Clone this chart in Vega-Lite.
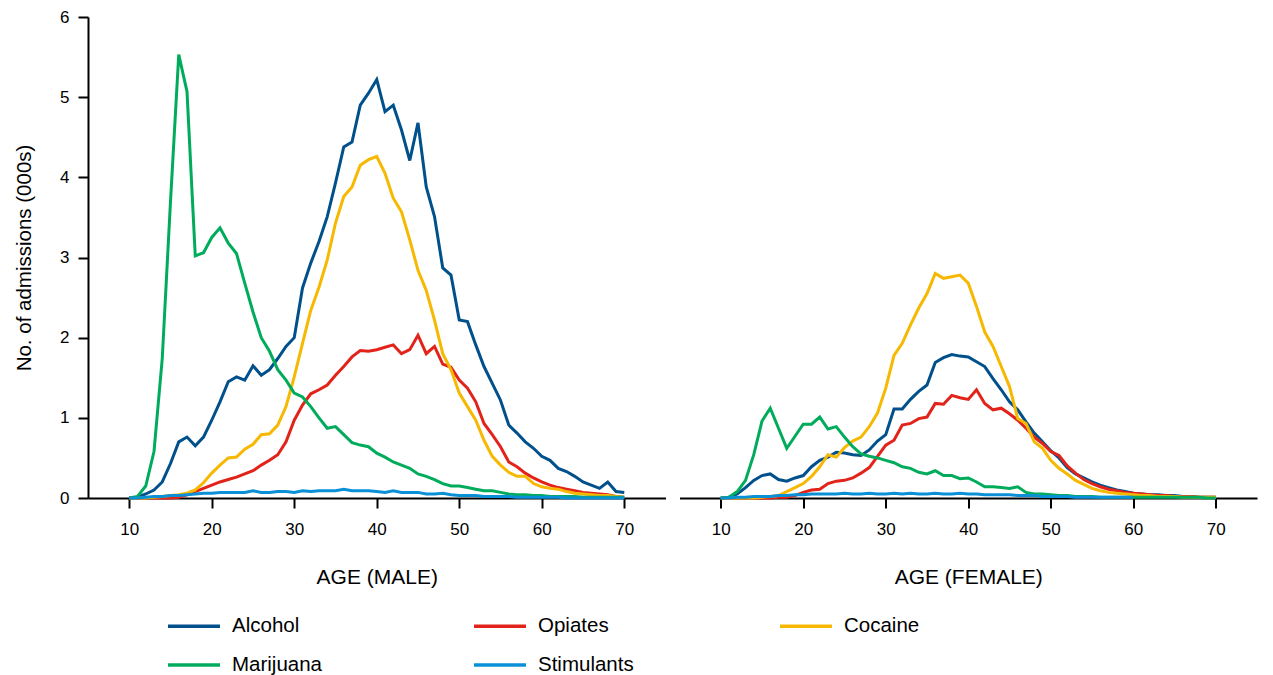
{
"$schema": "https://vega.github.io/schema/vega-lite/v6.json",
"padding": {"left": 14, "top": 8, "right": 5, "bottom": 5},
"background": "white",
"config": {
  "view": {"stroke": null},
  "font": "Liberation Sans",
  "axis": {"domainColor": "black", "domainWidth": 2, "tickColor": "black", "tickWidth": 2, "tickSize": 10, "labelFontSize": 17, "labelColor": "black", "titleFontSize": 21, "titleFontWeight": "normal", "titleColor": "black", "grid": false, "labelFont": "Liberation Sans", "titleFont": "Liberation Sans"},
  "legend": {"labelFont": "Liberation Sans"}
},
"datasets": {"d": [
{"sex":"MALE","drug":"Alcohol","age":10,"n":0},{"sex":"MALE","drug":"Alcohol","age":11,"n":0.01},{"sex":"MALE","drug":"Alcohol","age":12,"n":0.05},{"sex":"MALE","drug":"Alcohol","age":13,"n":0.1},{"sex":"MALE","drug":"Alcohol","age":14,"n":0.2},{"sex":"MALE","drug":"Alcohol","age":15,"n":0.43},{"sex":"MALE","drug":"Alcohol","age":16,"n":0.7},{"sex":"MALE","drug":"Alcohol","age":17,"n":0.76},{"sex":"MALE","drug":"Alcohol","age":18,"n":0.65},{"sex":"MALE","drug":"Alcohol","age":19,"n":0.76},{"sex":"MALE","drug":"Alcohol","age":20,"n":0.97},{"sex":"MALE","drug":"Alcohol","age":21,"n":1.2},{"sex":"MALE","drug":"Alcohol","age":22,"n":1.45},{"sex":"MALE","drug":"Alcohol","age":23,"n":1.51},{"sex":"MALE","drug":"Alcohol","age":24,"n":1.47},{"sex":"MALE","drug":"Alcohol","age":25,"n":1.65},{"sex":"MALE","drug":"Alcohol","age":26,"n":1.53},{"sex":"MALE","drug":"Alcohol","age":27,"n":1.6},{"sex":"MALE","drug":"Alcohol","age":28,"n":1.74},{"sex":"MALE","drug":"Alcohol","age":29,"n":1.89},{"sex":"MALE","drug":"Alcohol","age":30,"n":2.0},{"sex":"MALE","drug":"Alcohol","age":31,"n":2.62},{"sex":"MALE","drug":"Alcohol","age":32,"n":2.93},{"sex":"MALE","drug":"Alcohol","age":33,"n":3.2},{"sex":"MALE","drug":"Alcohol","age":34,"n":3.51},{"sex":"MALE","drug":"Alcohol","age":35,"n":3.93},{"sex":"MALE","drug":"Alcohol","age":36,"n":4.38},{"sex":"MALE","drug":"Alcohol","age":37,"n":4.44},{"sex":"MALE","drug":"Alcohol","age":38,"n":4.9},{"sex":"MALE","drug":"Alcohol","age":39,"n":5.05},{"sex":"MALE","drug":"Alcohol","age":40,"n":5.22},{"sex":"MALE","drug":"Alcohol","age":41,"n":4.82},{"sex":"MALE","drug":"Alcohol","age":42,"n":4.9},{"sex":"MALE","drug":"Alcohol","age":43,"n":4.59},{"sex":"MALE","drug":"Alcohol","age":44,"n":4.21},{"sex":"MALE","drug":"Alcohol","age":45,"n":4.68},{"sex":"MALE","drug":"Alcohol","age":46,"n":3.88},{"sex":"MALE","drug":"Alcohol","age":47,"n":3.51},{"sex":"MALE","drug":"Alcohol","age":48,"n":2.87},{"sex":"MALE","drug":"Alcohol","age":49,"n":2.78},{"sex":"MALE","drug":"Alcohol","age":50,"n":2.22},{"sex":"MALE","drug":"Alcohol","age":51,"n":2.2},{"sex":"MALE","drug":"Alcohol","age":52,"n":1.91},{"sex":"MALE","drug":"Alcohol","age":53,"n":1.64},{"sex":"MALE","drug":"Alcohol","age":54,"n":1.43},{"sex":"MALE","drug":"Alcohol","age":55,"n":1.22},{"sex":"MALE","drug":"Alcohol","age":56,"n":0.91},{"sex":"MALE","drug":"Alcohol","age":57,"n":0.81},{"sex":"MALE","drug":"Alcohol","age":58,"n":0.7},{"sex":"MALE","drug":"Alcohol","age":59,"n":0.62},{"sex":"MALE","drug":"Alcohol","age":60,"n":0.52},{"sex":"MALE","drug":"Alcohol","age":61,"n":0.47},{"sex":"MALE","drug":"Alcohol","age":62,"n":0.37},{"sex":"MALE","drug":"Alcohol","age":63,"n":0.33},{"sex":"MALE","drug":"Alcohol","age":64,"n":0.27},{"sex":"MALE","drug":"Alcohol","age":65,"n":0.2},{"sex":"MALE","drug":"Alcohol","age":66,"n":0.16},{"sex":"MALE","drug":"Alcohol","age":67,"n":0.12},{"sex":"MALE","drug":"Alcohol","age":68,"n":0.2},{"sex":"MALE","drug":"Alcohol","age":69,"n":0.08},{"sex":"MALE","drug":"Alcohol","age":70,"n":0.07},
{"sex":"MALE","drug":"Opiates","age":10,"n":0},{"sex":"MALE","drug":"Opiates","age":11,"n":0},{"sex":"MALE","drug":"Opiates","age":12,"n":0},{"sex":"MALE","drug":"Opiates","age":13,"n":0},{"sex":"MALE","drug":"Opiates","age":14,"n":0},{"sex":"MALE","drug":"Opiates","age":15,"n":0},{"sex":"MALE","drug":"Opiates","age":16,"n":0.01},{"sex":"MALE","drug":"Opiates","age":17,"n":0.04},{"sex":"MALE","drug":"Opiates","age":18,"n":0.08},{"sex":"MALE","drug":"Opiates","age":19,"n":0.12},{"sex":"MALE","drug":"Opiates","age":20,"n":0.16},{"sex":"MALE","drug":"Opiates","age":21,"n":0.2},{"sex":"MALE","drug":"Opiates","age":22,"n":0.23},{"sex":"MALE","drug":"Opiates","age":23,"n":0.26},{"sex":"MALE","drug":"Opiates","age":24,"n":0.3},{"sex":"MALE","drug":"Opiates","age":25,"n":0.34},{"sex":"MALE","drug":"Opiates","age":26,"n":0.41},{"sex":"MALE","drug":"Opiates","age":27,"n":0.47},{"sex":"MALE","drug":"Opiates","age":28,"n":0.54},{"sex":"MALE","drug":"Opiates","age":29,"n":0.7},{"sex":"MALE","drug":"Opiates","age":30,"n":0.97},{"sex":"MALE","drug":"Opiates","age":31,"n":1.16},{"sex":"MALE","drug":"Opiates","age":32,"n":1.3},{"sex":"MALE","drug":"Opiates","age":33,"n":1.35},{"sex":"MALE","drug":"Opiates","age":34,"n":1.41},{"sex":"MALE","drug":"Opiates","age":35,"n":1.53},{"sex":"MALE","drug":"Opiates","age":36,"n":1.64},{"sex":"MALE","drug":"Opiates","age":37,"n":1.76},{"sex":"MALE","drug":"Opiates","age":38,"n":1.84},{"sex":"MALE","drug":"Opiates","age":39,"n":1.83},{"sex":"MALE","drug":"Opiates","age":40,"n":1.85},{"sex":"MALE","drug":"Opiates","age":41,"n":1.88},{"sex":"MALE","drug":"Opiates","age":42,"n":1.91},{"sex":"MALE","drug":"Opiates","age":43,"n":1.8},{"sex":"MALE","drug":"Opiates","age":44,"n":1.85},{"sex":"MALE","drug":"Opiates","age":45,"n":2.03},{"sex":"MALE","drug":"Opiates","age":46,"n":1.8},{"sex":"MALE","drug":"Opiates","age":47,"n":1.89},{"sex":"MALE","drug":"Opiates","age":48,"n":1.67},{"sex":"MALE","drug":"Opiates","age":49,"n":1.63},{"sex":"MALE","drug":"Opiates","age":50,"n":1.47},{"sex":"MALE","drug":"Opiates","age":51,"n":1.37},{"sex":"MALE","drug":"Opiates","age":52,"n":1.2},{"sex":"MALE","drug":"Opiates","age":53,"n":0.93},{"sex":"MALE","drug":"Opiates","age":54,"n":0.79},{"sex":"MALE","drug":"Opiates","age":55,"n":0.64},{"sex":"MALE","drug":"Opiates","age":56,"n":0.45},{"sex":"MALE","drug":"Opiates","age":57,"n":0.39},{"sex":"MALE","drug":"Opiates","age":58,"n":0.31},{"sex":"MALE","drug":"Opiates","age":59,"n":0.25},{"sex":"MALE","drug":"Opiates","age":60,"n":0.2},{"sex":"MALE","drug":"Opiates","age":61,"n":0.16},{"sex":"MALE","drug":"Opiates","age":62,"n":0.13},{"sex":"MALE","drug":"Opiates","age":63,"n":0.11},{"sex":"MALE","drug":"Opiates","age":64,"n":0.09},{"sex":"MALE","drug":"Opiates","age":65,"n":0.07},{"sex":"MALE","drug":"Opiates","age":66,"n":0.06},{"sex":"MALE","drug":"Opiates","age":67,"n":0.05},{"sex":"MALE","drug":"Opiates","age":68,"n":0.04},{"sex":"MALE","drug":"Opiates","age":69,"n":0.02},{"sex":"MALE","drug":"Opiates","age":70,"n":0.01},
{"sex":"MALE","drug":"Cocaine","age":10,"n":0},{"sex":"MALE","drug":"Cocaine","age":11,"n":0},{"sex":"MALE","drug":"Cocaine","age":12,"n":0},{"sex":"MALE","drug":"Cocaine","age":13,"n":0.01},{"sex":"MALE","drug":"Cocaine","age":14,"n":0.02},{"sex":"MALE","drug":"Cocaine","age":15,"n":0.03},{"sex":"MALE","drug":"Cocaine","age":16,"n":0.04},{"sex":"MALE","drug":"Cocaine","age":17,"n":0.06},{"sex":"MALE","drug":"Cocaine","age":18,"n":0.1},{"sex":"MALE","drug":"Cocaine","age":19,"n":0.19},{"sex":"MALE","drug":"Cocaine","age":20,"n":0.31},{"sex":"MALE","drug":"Cocaine","age":21,"n":0.41},{"sex":"MALE","drug":"Cocaine","age":22,"n":0.5},{"sex":"MALE","drug":"Cocaine","age":23,"n":0.51},{"sex":"MALE","drug":"Cocaine","age":24,"n":0.61},{"sex":"MALE","drug":"Cocaine","age":25,"n":0.67},{"sex":"MALE","drug":"Cocaine","age":26,"n":0.79},{"sex":"MALE","drug":"Cocaine","age":27,"n":0.8},{"sex":"MALE","drug":"Cocaine","age":28,"n":0.91},{"sex":"MALE","drug":"Cocaine","age":29,"n":1.14},{"sex":"MALE","drug":"Cocaine","age":30,"n":1.51},{"sex":"MALE","drug":"Cocaine","age":31,"n":1.93},{"sex":"MALE","drug":"Cocaine","age":32,"n":2.34},{"sex":"MALE","drug":"Cocaine","age":33,"n":2.63},{"sex":"MALE","drug":"Cocaine","age":34,"n":2.97},{"sex":"MALE","drug":"Cocaine","age":35,"n":3.43},{"sex":"MALE","drug":"Cocaine","age":36,"n":3.76},{"sex":"MALE","drug":"Cocaine","age":37,"n":3.88},{"sex":"MALE","drug":"Cocaine","age":38,"n":4.15},{"sex":"MALE","drug":"Cocaine","age":39,"n":4.22},{"sex":"MALE","drug":"Cocaine","age":40,"n":4.26},{"sex":"MALE","drug":"Cocaine","age":41,"n":4.05},{"sex":"MALE","drug":"Cocaine","age":42,"n":3.74},{"sex":"MALE","drug":"Cocaine","age":43,"n":3.57},{"sex":"MALE","drug":"Cocaine","age":44,"n":3.22},{"sex":"MALE","drug":"Cocaine","age":45,"n":2.84},{"sex":"MALE","drug":"Cocaine","age":46,"n":2.59},{"sex":"MALE","drug":"Cocaine","age":47,"n":2.22},{"sex":"MALE","drug":"Cocaine","age":48,"n":1.8},{"sex":"MALE","drug":"Cocaine","age":49,"n":1.6},{"sex":"MALE","drug":"Cocaine","age":50,"n":1.31},{"sex":"MALE","drug":"Cocaine","age":51,"n":1.14},{"sex":"MALE","drug":"Cocaine","age":52,"n":0.97},{"sex":"MALE","drug":"Cocaine","age":53,"n":0.72},{"sex":"MALE","drug":"Cocaine","age":54,"n":0.52},{"sex":"MALE","drug":"Cocaine","age":55,"n":0.41},{"sex":"MALE","drug":"Cocaine","age":56,"n":0.32},{"sex":"MALE","drug":"Cocaine","age":57,"n":0.27},{"sex":"MALE","drug":"Cocaine","age":58,"n":0.27},{"sex":"MALE","drug":"Cocaine","age":59,"n":0.18},{"sex":"MALE","drug":"Cocaine","age":60,"n":0.14},{"sex":"MALE","drug":"Cocaine","age":61,"n":0.12},{"sex":"MALE","drug":"Cocaine","age":62,"n":0.11},{"sex":"MALE","drug":"Cocaine","age":63,"n":0.08},{"sex":"MALE","drug":"Cocaine","age":64,"n":0.06},{"sex":"MALE","drug":"Cocaine","age":65,"n":0.05},{"sex":"MALE","drug":"Cocaine","age":66,"n":0.04},{"sex":"MALE","drug":"Cocaine","age":67,"n":0.03},{"sex":"MALE","drug":"Cocaine","age":68,"n":0.03},{"sex":"MALE","drug":"Cocaine","age":69,"n":0.02},{"sex":"MALE","drug":"Cocaine","age":70,"n":0.01},
{"sex":"MALE","drug":"Marijuana","age":10,"n":0},{"sex":"MALE","drug":"Marijuana","age":11,"n":0.02},{"sex":"MALE","drug":"Marijuana","age":12,"n":0.15},{"sex":"MALE","drug":"Marijuana","age":13,"n":0.58},{"sex":"MALE","drug":"Marijuana","age":14,"n":1.74},{"sex":"MALE","drug":"Marijuana","age":15,"n":3.7},{"sex":"MALE","drug":"Marijuana","age":16,"n":5.53},{"sex":"MALE","drug":"Marijuana","age":17,"n":5.07},{"sex":"MALE","drug":"Marijuana","age":18,"n":3.02},{"sex":"MALE","drug":"Marijuana","age":19,"n":3.06},{"sex":"MALE","drug":"Marijuana","age":20,"n":3.25},{"sex":"MALE","drug":"Marijuana","age":21,"n":3.37},{"sex":"MALE","drug":"Marijuana","age":22,"n":3.18},{"sex":"MALE","drug":"Marijuana","age":23,"n":3.05},{"sex":"MALE","drug":"Marijuana","age":24,"n":2.68},{"sex":"MALE","drug":"Marijuana","age":25,"n":2.32},{"sex":"MALE","drug":"Marijuana","age":26,"n":2.0},{"sex":"MALE","drug":"Marijuana","age":27,"n":1.83},{"sex":"MALE","drug":"Marijuana","age":28,"n":1.6},{"sex":"MALE","drug":"Marijuana","age":29,"n":1.47},{"sex":"MALE","drug":"Marijuana","age":30,"n":1.31},{"sex":"MALE","drug":"Marijuana","age":31,"n":1.26},{"sex":"MALE","drug":"Marijuana","age":32,"n":1.14},{"sex":"MALE","drug":"Marijuana","age":33,"n":1.0},{"sex":"MALE","drug":"Marijuana","age":34,"n":0.87},{"sex":"MALE","drug":"Marijuana","age":35,"n":0.89},{"sex":"MALE","drug":"Marijuana","age":36,"n":0.79},{"sex":"MALE","drug":"Marijuana","age":37,"n":0.69},{"sex":"MALE","drug":"Marijuana","age":38,"n":0.66},{"sex":"MALE","drug":"Marijuana","age":39,"n":0.64},{"sex":"MALE","drug":"Marijuana","age":40,"n":0.56},{"sex":"MALE","drug":"Marijuana","age":41,"n":0.51},{"sex":"MALE","drug":"Marijuana","age":42,"n":0.45},{"sex":"MALE","drug":"Marijuana","age":43,"n":0.41},{"sex":"MALE","drug":"Marijuana","age":44,"n":0.37},{"sex":"MALE","drug":"Marijuana","age":45,"n":0.3},{"sex":"MALE","drug":"Marijuana","age":46,"n":0.27},{"sex":"MALE","drug":"Marijuana","age":47,"n":0.23},{"sex":"MALE","drug":"Marijuana","age":48,"n":0.18},{"sex":"MALE","drug":"Marijuana","age":49,"n":0.15},{"sex":"MALE","drug":"Marijuana","age":50,"n":0.15},{"sex":"MALE","drug":"Marijuana","age":51,"n":0.13},{"sex":"MALE","drug":"Marijuana","age":52,"n":0.11},{"sex":"MALE","drug":"Marijuana","age":53,"n":0.09},{"sex":"MALE","drug":"Marijuana","age":54,"n":0.09},{"sex":"MALE","drug":"Marijuana","age":55,"n":0.07},{"sex":"MALE","drug":"Marijuana","age":56,"n":0.05},{"sex":"MALE","drug":"Marijuana","age":57,"n":0.04},{"sex":"MALE","drug":"Marijuana","age":58,"n":0.04},{"sex":"MALE","drug":"Marijuana","age":59,"n":0.03},{"sex":"MALE","drug":"Marijuana","age":60,"n":0.03},{"sex":"MALE","drug":"Marijuana","age":61,"n":0.02},{"sex":"MALE","drug":"Marijuana","age":62,"n":0.02},{"sex":"MALE","drug":"Marijuana","age":63,"n":0.02},{"sex":"MALE","drug":"Marijuana","age":64,"n":0.02},{"sex":"MALE","drug":"Marijuana","age":65,"n":0.01},{"sex":"MALE","drug":"Marijuana","age":66,"n":0.01},{"sex":"MALE","drug":"Marijuana","age":67,"n":0.01},{"sex":"MALE","drug":"Marijuana","age":68,"n":0.01},{"sex":"MALE","drug":"Marijuana","age":69,"n":0.01},{"sex":"MALE","drug":"Marijuana","age":70,"n":0.01},
{"sex":"MALE","drug":"Stimulants","age":10,"n":0},{"sex":"MALE","drug":"Stimulants","age":11,"n":0},{"sex":"MALE","drug":"Stimulants","age":12,"n":0.01},{"sex":"MALE","drug":"Stimulants","age":13,"n":0.02},{"sex":"MALE","drug":"Stimulants","age":14,"n":0.02},{"sex":"MALE","drug":"Stimulants","age":15,"n":0.03},{"sex":"MALE","drug":"Stimulants","age":16,"n":0.03},{"sex":"MALE","drug":"Stimulants","age":17,"n":0.04},{"sex":"MALE","drug":"Stimulants","age":18,"n":0.05},{"sex":"MALE","drug":"Stimulants","age":19,"n":0.06},{"sex":"MALE","drug":"Stimulants","age":20,"n":0.06},{"sex":"MALE","drug":"Stimulants","age":21,"n":0.07},{"sex":"MALE","drug":"Stimulants","age":22,"n":0.07},{"sex":"MALE","drug":"Stimulants","age":23,"n":0.07},{"sex":"MALE","drug":"Stimulants","age":24,"n":0.07},{"sex":"MALE","drug":"Stimulants","age":25,"n":0.09},{"sex":"MALE","drug":"Stimulants","age":26,"n":0.07},{"sex":"MALE","drug":"Stimulants","age":27,"n":0.07},{"sex":"MALE","drug":"Stimulants","age":28,"n":0.08},{"sex":"MALE","drug":"Stimulants","age":29,"n":0.08},{"sex":"MALE","drug":"Stimulants","age":30,"n":0.07},{"sex":"MALE","drug":"Stimulants","age":31,"n":0.09},{"sex":"MALE","drug":"Stimulants","age":32,"n":0.08},{"sex":"MALE","drug":"Stimulants","age":33,"n":0.09},{"sex":"MALE","drug":"Stimulants","age":34,"n":0.09},{"sex":"MALE","drug":"Stimulants","age":35,"n":0.09},{"sex":"MALE","drug":"Stimulants","age":36,"n":0.11},{"sex":"MALE","drug":"Stimulants","age":37,"n":0.09},{"sex":"MALE","drug":"Stimulants","age":38,"n":0.09},{"sex":"MALE","drug":"Stimulants","age":39,"n":0.09},{"sex":"MALE","drug":"Stimulants","age":40,"n":0.08},{"sex":"MALE","drug":"Stimulants","age":41,"n":0.07},{"sex":"MALE","drug":"Stimulants","age":42,"n":0.09},{"sex":"MALE","drug":"Stimulants","age":43,"n":0.07},{"sex":"MALE","drug":"Stimulants","age":44,"n":0.07},{"sex":"MALE","drug":"Stimulants","age":45,"n":0.07},{"sex":"MALE","drug":"Stimulants","age":46,"n":0.05},{"sex":"MALE","drug":"Stimulants","age":47,"n":0.05},{"sex":"MALE","drug":"Stimulants","age":48,"n":0.06},{"sex":"MALE","drug":"Stimulants","age":49,"n":0.04},{"sex":"MALE","drug":"Stimulants","age":50,"n":0.03},{"sex":"MALE","drug":"Stimulants","age":51,"n":0.03},{"sex":"MALE","drug":"Stimulants","age":52,"n":0.03},{"sex":"MALE","drug":"Stimulants","age":53,"n":0.02},{"sex":"MALE","drug":"Stimulants","age":54,"n":0.02},{"sex":"MALE","drug":"Stimulants","age":55,"n":0.02},{"sex":"MALE","drug":"Stimulants","age":56,"n":0.02},{"sex":"MALE","drug":"Stimulants","age":57,"n":0.01},{"sex":"MALE","drug":"Stimulants","age":58,"n":0.01},{"sex":"MALE","drug":"Stimulants","age":59,"n":0.01},{"sex":"MALE","drug":"Stimulants","age":60,"n":0.01},{"sex":"MALE","drug":"Stimulants","age":61,"n":0.01},{"sex":"MALE","drug":"Stimulants","age":62,"n":0.01},{"sex":"MALE","drug":"Stimulants","age":63,"n":0},{"sex":"MALE","drug":"Stimulants","age":64,"n":0},{"sex":"MALE","drug":"Stimulants","age":65,"n":0},{"sex":"MALE","drug":"Stimulants","age":66,"n":0},{"sex":"MALE","drug":"Stimulants","age":67,"n":0},{"sex":"MALE","drug":"Stimulants","age":68,"n":0},{"sex":"MALE","drug":"Stimulants","age":69,"n":0},{"sex":"MALE","drug":"Stimulants","age":70,"n":0},
{"sex":"FEMALE","drug":"Alcohol","age":10,"n":0},{"sex":"FEMALE","drug":"Alcohol","age":11,"n":0.01},{"sex":"FEMALE","drug":"Alcohol","age":12,"n":0.05},{"sex":"FEMALE","drug":"Alcohol","age":13,"n":0.13},{"sex":"FEMALE","drug":"Alcohol","age":14,"n":0.22},{"sex":"FEMALE","drug":"Alcohol","age":15,"n":0.28},{"sex":"FEMALE","drug":"Alcohol","age":16,"n":0.3},{"sex":"FEMALE","drug":"Alcohol","age":17,"n":0.23},{"sex":"FEMALE","drug":"Alcohol","age":18,"n":0.21},{"sex":"FEMALE","drug":"Alcohol","age":19,"n":0.25},{"sex":"FEMALE","drug":"Alcohol","age":20,"n":0.28},{"sex":"FEMALE","drug":"Alcohol","age":21,"n":0.39},{"sex":"FEMALE","drug":"Alcohol","age":22,"n":0.47},{"sex":"FEMALE","drug":"Alcohol","age":23,"n":0.51},{"sex":"FEMALE","drug":"Alcohol","age":24,"n":0.57},{"sex":"FEMALE","drug":"Alcohol","age":25,"n":0.56},{"sex":"FEMALE","drug":"Alcohol","age":26,"n":0.54},{"sex":"FEMALE","drug":"Alcohol","age":27,"n":0.53},{"sex":"FEMALE","drug":"Alcohol","age":28,"n":0.6},{"sex":"FEMALE","drug":"Alcohol","age":29,"n":0.71},{"sex":"FEMALE","drug":"Alcohol","age":30,"n":0.79},{"sex":"FEMALE","drug":"Alcohol","age":31,"n":1.11},{"sex":"FEMALE","drug":"Alcohol","age":32,"n":1.11},{"sex":"FEMALE","drug":"Alcohol","age":33,"n":1.23},{"sex":"FEMALE","drug":"Alcohol","age":34,"n":1.33},{"sex":"FEMALE","drug":"Alcohol","age":35,"n":1.41},{"sex":"FEMALE","drug":"Alcohol","age":36,"n":1.69},{"sex":"FEMALE","drug":"Alcohol","age":37,"n":1.75},{"sex":"FEMALE","drug":"Alcohol","age":38,"n":1.79},{"sex":"FEMALE","drug":"Alcohol","age":39,"n":1.77},{"sex":"FEMALE","drug":"Alcohol","age":40,"n":1.76},{"sex":"FEMALE","drug":"Alcohol","age":41,"n":1.7},{"sex":"FEMALE","drug":"Alcohol","age":42,"n":1.64},{"sex":"FEMALE","drug":"Alcohol","age":43,"n":1.49},{"sex":"FEMALE","drug":"Alcohol","age":44,"n":1.35},{"sex":"FEMALE","drug":"Alcohol","age":45,"n":1.2},{"sex":"FEMALE","drug":"Alcohol","age":46,"n":1.1},{"sex":"FEMALE","drug":"Alcohol","age":47,"n":0.95},{"sex":"FEMALE","drug":"Alcohol","age":48,"n":0.81},{"sex":"FEMALE","drug":"Alcohol","age":49,"n":0.7},{"sex":"FEMALE","drug":"Alcohol","age":50,"n":0.59},{"sex":"FEMALE","drug":"Alcohol","age":51,"n":0.5},{"sex":"FEMALE","drug":"Alcohol","age":52,"n":0.38},{"sex":"FEMALE","drug":"Alcohol","age":53,"n":0.3},{"sex":"FEMALE","drug":"Alcohol","age":54,"n":0.25},{"sex":"FEMALE","drug":"Alcohol","age":55,"n":0.2},{"sex":"FEMALE","drug":"Alcohol","age":56,"n":0.16},{"sex":"FEMALE","drug":"Alcohol","age":57,"n":0.13},{"sex":"FEMALE","drug":"Alcohol","age":58,"n":0.1},{"sex":"FEMALE","drug":"Alcohol","age":59,"n":0.08},{"sex":"FEMALE","drug":"Alcohol","age":60,"n":0.06},{"sex":"FEMALE","drug":"Alcohol","age":61,"n":0.05},{"sex":"FEMALE","drug":"Alcohol","age":62,"n":0.04},{"sex":"FEMALE","drug":"Alcohol","age":63,"n":0.04},{"sex":"FEMALE","drug":"Alcohol","age":64,"n":0.03},{"sex":"FEMALE","drug":"Alcohol","age":65,"n":0.03},{"sex":"FEMALE","drug":"Alcohol","age":66,"n":0.02},{"sex":"FEMALE","drug":"Alcohol","age":67,"n":0.02},{"sex":"FEMALE","drug":"Alcohol","age":68,"n":0.01},{"sex":"FEMALE","drug":"Alcohol","age":69,"n":0.01},{"sex":"FEMALE","drug":"Alcohol","age":70,"n":0.01},
{"sex":"FEMALE","drug":"Opiates","age":10,"n":0},{"sex":"FEMALE","drug":"Opiates","age":11,"n":0},{"sex":"FEMALE","drug":"Opiates","age":12,"n":0},{"sex":"FEMALE","drug":"Opiates","age":13,"n":0},{"sex":"FEMALE","drug":"Opiates","age":14,"n":0},{"sex":"FEMALE","drug":"Opiates","age":15,"n":0},{"sex":"FEMALE","drug":"Opiates","age":16,"n":0},{"sex":"FEMALE","drug":"Opiates","age":17,"n":0.01},{"sex":"FEMALE","drug":"Opiates","age":18,"n":0.01},{"sex":"FEMALE","drug":"Opiates","age":19,"n":0.03},{"sex":"FEMALE","drug":"Opiates","age":20,"n":0.07},{"sex":"FEMALE","drug":"Opiates","age":21,"n":0.1},{"sex":"FEMALE","drug":"Opiates","age":22,"n":0.11},{"sex":"FEMALE","drug":"Opiates","age":23,"n":0.18},{"sex":"FEMALE","drug":"Opiates","age":24,"n":0.21},{"sex":"FEMALE","drug":"Opiates","age":25,"n":0.22},{"sex":"FEMALE","drug":"Opiates","age":26,"n":0.25},{"sex":"FEMALE","drug":"Opiates","age":27,"n":0.31},{"sex":"FEMALE","drug":"Opiates","age":28,"n":0.38},{"sex":"FEMALE","drug":"Opiates","age":29,"n":0.52},{"sex":"FEMALE","drug":"Opiates","age":30,"n":0.66},{"sex":"FEMALE","drug":"Opiates","age":31,"n":0.72},{"sex":"FEMALE","drug":"Opiates","age":32,"n":0.91},{"sex":"FEMALE","drug":"Opiates","age":33,"n":0.93},{"sex":"FEMALE","drug":"Opiates","age":34,"n":0.99},{"sex":"FEMALE","drug":"Opiates","age":35,"n":1.01},{"sex":"FEMALE","drug":"Opiates","age":36,"n":1.18},{"sex":"FEMALE","drug":"Opiates","age":37,"n":1.17},{"sex":"FEMALE","drug":"Opiates","age":38,"n":1.28},{"sex":"FEMALE","drug":"Opiates","age":39,"n":1.25},{"sex":"FEMALE","drug":"Opiates","age":40,"n":1.23},{"sex":"FEMALE","drug":"Opiates","age":41,"n":1.35},{"sex":"FEMALE","drug":"Opiates","age":42,"n":1.18},{"sex":"FEMALE","drug":"Opiates","age":43,"n":1.1},{"sex":"FEMALE","drug":"Opiates","age":44,"n":1.12},{"sex":"FEMALE","drug":"Opiates","age":45,"n":1.05},{"sex":"FEMALE","drug":"Opiates","age":46,"n":0.97},{"sex":"FEMALE","drug":"Opiates","age":47,"n":0.87},{"sex":"FEMALE","drug":"Opiates","age":48,"n":0.76},{"sex":"FEMALE","drug":"Opiates","age":49,"n":0.68},{"sex":"FEMALE","drug":"Opiates","age":50,"n":0.58},{"sex":"FEMALE","drug":"Opiates","age":51,"n":0.53},{"sex":"FEMALE","drug":"Opiates","age":52,"n":0.4},{"sex":"FEMALE","drug":"Opiates","age":53,"n":0.31},{"sex":"FEMALE","drug":"Opiates","age":54,"n":0.23},{"sex":"FEMALE","drug":"Opiates","age":55,"n":0.18},{"sex":"FEMALE","drug":"Opiates","age":56,"n":0.14},{"sex":"FEMALE","drug":"Opiates","age":57,"n":0.11},{"sex":"FEMALE","drug":"Opiates","age":58,"n":0.09},{"sex":"FEMALE","drug":"Opiates","age":59,"n":0.07},{"sex":"FEMALE","drug":"Opiates","age":60,"n":0.06},{"sex":"FEMALE","drug":"Opiates","age":61,"n":0.05},{"sex":"FEMALE","drug":"Opiates","age":62,"n":0.04},{"sex":"FEMALE","drug":"Opiates","age":63,"n":0.03},{"sex":"FEMALE","drug":"Opiates","age":64,"n":0.03},{"sex":"FEMALE","drug":"Opiates","age":65,"n":0.02},{"sex":"FEMALE","drug":"Opiates","age":66,"n":0.02},{"sex":"FEMALE","drug":"Opiates","age":67,"n":0.02},{"sex":"FEMALE","drug":"Opiates","age":68,"n":0.01},{"sex":"FEMALE","drug":"Opiates","age":69,"n":0.01},{"sex":"FEMALE","drug":"Opiates","age":70,"n":0.01},
{"sex":"FEMALE","drug":"Cocaine","age":10,"n":0},{"sex":"FEMALE","drug":"Cocaine","age":11,"n":0},{"sex":"FEMALE","drug":"Cocaine","age":12,"n":0},{"sex":"FEMALE","drug":"Cocaine","age":13,"n":0},{"sex":"FEMALE","drug":"Cocaine","age":14,"n":0},{"sex":"FEMALE","drug":"Cocaine","age":15,"n":0.01},{"sex":"FEMALE","drug":"Cocaine","age":16,"n":0.02},{"sex":"FEMALE","drug":"Cocaine","age":17,"n":0.03},{"sex":"FEMALE","drug":"Cocaine","age":18,"n":0.08},{"sex":"FEMALE","drug":"Cocaine","age":19,"n":0.13},{"sex":"FEMALE","drug":"Cocaine","age":20,"n":0.18},{"sex":"FEMALE","drug":"Cocaine","age":21,"n":0.27},{"sex":"FEMALE","drug":"Cocaine","age":22,"n":0.39},{"sex":"FEMALE","drug":"Cocaine","age":23,"n":0.54},{"sex":"FEMALE","drug":"Cocaine","age":24,"n":0.51},{"sex":"FEMALE","drug":"Cocaine","age":25,"n":0.63},{"sex":"FEMALE","drug":"Cocaine","age":26,"n":0.71},{"sex":"FEMALE","drug":"Cocaine","age":27,"n":0.76},{"sex":"FEMALE","drug":"Cocaine","age":28,"n":0.89},{"sex":"FEMALE","drug":"Cocaine","age":29,"n":1.06},{"sex":"FEMALE","drug":"Cocaine","age":30,"n":1.37},{"sex":"FEMALE","drug":"Cocaine","age":31,"n":1.78},{"sex":"FEMALE","drug":"Cocaine","age":32,"n":1.93},{"sex":"FEMALE","drug":"Cocaine","age":33,"n":2.16},{"sex":"FEMALE","drug":"Cocaine","age":34,"n":2.37},{"sex":"FEMALE","drug":"Cocaine","age":35,"n":2.55},{"sex":"FEMALE","drug":"Cocaine","age":36,"n":2.8},{"sex":"FEMALE","drug":"Cocaine","age":37,"n":2.74},{"sex":"FEMALE","drug":"Cocaine","age":38,"n":2.76},{"sex":"FEMALE","drug":"Cocaine","age":39,"n":2.78},{"sex":"FEMALE","drug":"Cocaine","age":40,"n":2.68},{"sex":"FEMALE","drug":"Cocaine","age":41,"n":2.39},{"sex":"FEMALE","drug":"Cocaine","age":42,"n":2.07},{"sex":"FEMALE","drug":"Cocaine","age":43,"n":1.89},{"sex":"FEMALE","drug":"Cocaine","age":44,"n":1.64},{"sex":"FEMALE","drug":"Cocaine","age":45,"n":1.39},{"sex":"FEMALE","drug":"Cocaine","age":46,"n":0.99},{"sex":"FEMALE","drug":"Cocaine","age":47,"n":0.93},{"sex":"FEMALE","drug":"Cocaine","age":48,"n":0.7},{"sex":"FEMALE","drug":"Cocaine","age":49,"n":0.62},{"sex":"FEMALE","drug":"Cocaine","age":50,"n":0.47},{"sex":"FEMALE","drug":"Cocaine","age":51,"n":0.37},{"sex":"FEMALE","drug":"Cocaine","age":52,"n":0.3},{"sex":"FEMALE","drug":"Cocaine","age":53,"n":0.22},{"sex":"FEMALE","drug":"Cocaine","age":54,"n":0.17},{"sex":"FEMALE","drug":"Cocaine","age":55,"n":0.12},{"sex":"FEMALE","drug":"Cocaine","age":56,"n":0.09},{"sex":"FEMALE","drug":"Cocaine","age":57,"n":0.07},{"sex":"FEMALE","drug":"Cocaine","age":58,"n":0.06},{"sex":"FEMALE","drug":"Cocaine","age":59,"n":0.05},{"sex":"FEMALE","drug":"Cocaine","age":60,"n":0.04},{"sex":"FEMALE","drug":"Cocaine","age":61,"n":0.03},{"sex":"FEMALE","drug":"Cocaine","age":62,"n":0.03},{"sex":"FEMALE","drug":"Cocaine","age":63,"n":0.02},{"sex":"FEMALE","drug":"Cocaine","age":64,"n":0.02},{"sex":"FEMALE","drug":"Cocaine","age":65,"n":0.02},{"sex":"FEMALE","drug":"Cocaine","age":66,"n":0.01},{"sex":"FEMALE","drug":"Cocaine","age":67,"n":0.01},{"sex":"FEMALE","drug":"Cocaine","age":68,"n":0.01},{"sex":"FEMALE","drug":"Cocaine","age":69,"n":0.01},{"sex":"FEMALE","drug":"Cocaine","age":70,"n":0.01},
{"sex":"FEMALE","drug":"Marijuana","age":10,"n":0},{"sex":"FEMALE","drug":"Marijuana","age":11,"n":0.01},{"sex":"FEMALE","drug":"Marijuana","age":12,"n":0.08},{"sex":"FEMALE","drug":"Marijuana","age":13,"n":0.22},{"sex":"FEMALE","drug":"Marijuana","age":14,"n":0.54},{"sex":"FEMALE","drug":"Marijuana","age":15,"n":0.96},{"sex":"FEMALE","drug":"Marijuana","age":16,"n":1.12},{"sex":"FEMALE","drug":"Marijuana","age":17,"n":0.87},{"sex":"FEMALE","drug":"Marijuana","age":18,"n":0.62},{"sex":"FEMALE","drug":"Marijuana","age":19,"n":0.77},{"sex":"FEMALE","drug":"Marijuana","age":20,"n":0.92},{"sex":"FEMALE","drug":"Marijuana","age":21,"n":0.92},{"sex":"FEMALE","drug":"Marijuana","age":22,"n":1.01},{"sex":"FEMALE","drug":"Marijuana","age":23,"n":0.86},{"sex":"FEMALE","drug":"Marijuana","age":24,"n":0.89},{"sex":"FEMALE","drug":"Marijuana","age":25,"n":0.76},{"sex":"FEMALE","drug":"Marijuana","age":26,"n":0.64},{"sex":"FEMALE","drug":"Marijuana","age":27,"n":0.55},{"sex":"FEMALE","drug":"Marijuana","age":28,"n":0.52},{"sex":"FEMALE","drug":"Marijuana","age":29,"n":0.5},{"sex":"FEMALE","drug":"Marijuana","age":30,"n":0.47},{"sex":"FEMALE","drug":"Marijuana","age":31,"n":0.44},{"sex":"FEMALE","drug":"Marijuana","age":32,"n":0.39},{"sex":"FEMALE","drug":"Marijuana","age":33,"n":0.37},{"sex":"FEMALE","drug":"Marijuana","age":34,"n":0.32},{"sex":"FEMALE","drug":"Marijuana","age":35,"n":0.3},{"sex":"FEMALE","drug":"Marijuana","age":36,"n":0.34},{"sex":"FEMALE","drug":"Marijuana","age":37,"n":0.28},{"sex":"FEMALE","drug":"Marijuana","age":38,"n":0.28},{"sex":"FEMALE","drug":"Marijuana","age":39,"n":0.24},{"sex":"FEMALE","drug":"Marijuana","age":40,"n":0.25},{"sex":"FEMALE","drug":"Marijuana","age":41,"n":0.2},{"sex":"FEMALE","drug":"Marijuana","age":42,"n":0.14},{"sex":"FEMALE","drug":"Marijuana","age":43,"n":0.14},{"sex":"FEMALE","drug":"Marijuana","age":44,"n":0.13},{"sex":"FEMALE","drug":"Marijuana","age":45,"n":0.12},{"sex":"FEMALE","drug":"Marijuana","age":46,"n":0.14},{"sex":"FEMALE","drug":"Marijuana","age":47,"n":0.07},{"sex":"FEMALE","drug":"Marijuana","age":48,"n":0.05},{"sex":"FEMALE","drug":"Marijuana","age":49,"n":0.05},{"sex":"FEMALE","drug":"Marijuana","age":50,"n":0.04},{"sex":"FEMALE","drug":"Marijuana","age":51,"n":0.03},{"sex":"FEMALE","drug":"Marijuana","age":52,"n":0.03},{"sex":"FEMALE","drug":"Marijuana","age":53,"n":0.02},{"sex":"FEMALE","drug":"Marijuana","age":54,"n":0.02},{"sex":"FEMALE","drug":"Marijuana","age":55,"n":0.02},{"sex":"FEMALE","drug":"Marijuana","age":56,"n":0.01},{"sex":"FEMALE","drug":"Marijuana","age":57,"n":0.01},{"sex":"FEMALE","drug":"Marijuana","age":58,"n":0.01},{"sex":"FEMALE","drug":"Marijuana","age":59,"n":0.01},{"sex":"FEMALE","drug":"Marijuana","age":60,"n":0.01},{"sex":"FEMALE","drug":"Marijuana","age":61,"n":0.01},{"sex":"FEMALE","drug":"Marijuana","age":62,"n":0.01},{"sex":"FEMALE","drug":"Marijuana","age":63,"n":0.01},{"sex":"FEMALE","drug":"Marijuana","age":64,"n":0.01},{"sex":"FEMALE","drug":"Marijuana","age":65,"n":0.01},{"sex":"FEMALE","drug":"Marijuana","age":66,"n":0.01},{"sex":"FEMALE","drug":"Marijuana","age":67,"n":0.01},{"sex":"FEMALE","drug":"Marijuana","age":68,"n":0.01},{"sex":"FEMALE","drug":"Marijuana","age":69,"n":0},{"sex":"FEMALE","drug":"Marijuana","age":70,"n":0},
{"sex":"FEMALE","drug":"Stimulants","age":10,"n":0},{"sex":"FEMALE","drug":"Stimulants","age":11,"n":0},{"sex":"FEMALE","drug":"Stimulants","age":12,"n":0.01},{"sex":"FEMALE","drug":"Stimulants","age":13,"n":0.01},{"sex":"FEMALE","drug":"Stimulants","age":14,"n":0.02},{"sex":"FEMALE","drug":"Stimulants","age":15,"n":0.02},{"sex":"FEMALE","drug":"Stimulants","age":16,"n":0.02},{"sex":"FEMALE","drug":"Stimulants","age":17,"n":0.03},{"sex":"FEMALE","drug":"Stimulants","age":18,"n":0.03},{"sex":"FEMALE","drug":"Stimulants","age":19,"n":0.04},{"sex":"FEMALE","drug":"Stimulants","age":20,"n":0.04},{"sex":"FEMALE","drug":"Stimulants","age":21,"n":0.05},{"sex":"FEMALE","drug":"Stimulants","age":22,"n":0.05},{"sex":"FEMALE","drug":"Stimulants","age":23,"n":0.05},{"sex":"FEMALE","drug":"Stimulants","age":24,"n":0.05},{"sex":"FEMALE","drug":"Stimulants","age":25,"n":0.06},{"sex":"FEMALE","drug":"Stimulants","age":26,"n":0.05},{"sex":"FEMALE","drug":"Stimulants","age":27,"n":0.05},{"sex":"FEMALE","drug":"Stimulants","age":28,"n":0.06},{"sex":"FEMALE","drug":"Stimulants","age":29,"n":0.05},{"sex":"FEMALE","drug":"Stimulants","age":30,"n":0.05},{"sex":"FEMALE","drug":"Stimulants","age":31,"n":0.06},{"sex":"FEMALE","drug":"Stimulants","age":32,"n":0.05},{"sex":"FEMALE","drug":"Stimulants","age":33,"n":0.06},{"sex":"FEMALE","drug":"Stimulants","age":34,"n":0.05},{"sex":"FEMALE","drug":"Stimulants","age":35,"n":0.05},{"sex":"FEMALE","drug":"Stimulants","age":36,"n":0.06},{"sex":"FEMALE","drug":"Stimulants","age":37,"n":0.05},{"sex":"FEMALE","drug":"Stimulants","age":38,"n":0.05},{"sex":"FEMALE","drug":"Stimulants","age":39,"n":0.06},{"sex":"FEMALE","drug":"Stimulants","age":40,"n":0.05},{"sex":"FEMALE","drug":"Stimulants","age":41,"n":0.05},{"sex":"FEMALE","drug":"Stimulants","age":42,"n":0.04},{"sex":"FEMALE","drug":"Stimulants","age":43,"n":0.04},{"sex":"FEMALE","drug":"Stimulants","age":44,"n":0.04},{"sex":"FEMALE","drug":"Stimulants","age":45,"n":0.04},{"sex":"FEMALE","drug":"Stimulants","age":46,"n":0.03},{"sex":"FEMALE","drug":"Stimulants","age":47,"n":0.03},{"sex":"FEMALE","drug":"Stimulants","age":48,"n":0.03},{"sex":"FEMALE","drug":"Stimulants","age":49,"n":0.02},{"sex":"FEMALE","drug":"Stimulants","age":50,"n":0.02},{"sex":"FEMALE","drug":"Stimulants","age":51,"n":0.02},{"sex":"FEMALE","drug":"Stimulants","age":52,"n":0.02},{"sex":"FEMALE","drug":"Stimulants","age":53,"n":0.01},{"sex":"FEMALE","drug":"Stimulants","age":54,"n":0.01},{"sex":"FEMALE","drug":"Stimulants","age":55,"n":0.01},{"sex":"FEMALE","drug":"Stimulants","age":56,"n":0.01},{"sex":"FEMALE","drug":"Stimulants","age":57,"n":0.01},{"sex":"FEMALE","drug":"Stimulants","age":58,"n":0.01},{"sex":"FEMALE","drug":"Stimulants","age":59,"n":0.01},{"sex":"FEMALE","drug":"Stimulants","age":60,"n":0.01}
]},
"data": {"name": "d"},
"spacing": 13.5,
"resolve": {"scale": {"color": "shared"}},
"hconcat": [
 {
  "width": 577.5, "height": 481,
  "transform": [{"filter": "datum.sex === 'MALE'"}],
  "mark": {"type": "line", "strokeWidth": 3},
  "encoding": {
   "x": {"field": "age", "type": "quantitative", "scale": {"domain": [5, 75], "nice": false, "zero": false},
         "axis": {"values": [10, 20, 30, 40, 50, 60, 70], "title": "AGE (MALE)", "labelPadding": 13, "titlePadding": 29}},
   "y": {"field": "n", "type": "quantitative", "scale": {"domain": [0, 6], "nice": false},
         "axis": {"values": [0, 1, 2, 3, 4, 5, 6], "format": "d", "title": "No. of admissions (000s)", "titleFontSize": 20.5, "labelPadding": 9, "titlePadding": 25}},
   "color": {"field": "drug", "type": "nominal",
     "scale": {"domain": ["Alcohol", "Opiates", "Cocaine", "Marijuana", "Stimulants"], "range": ["#00508c", "#e2231a", "#f6b800", "#00ac5c", "#0a90d7"]},
     "legend": {"orient": "none", "legendX": 78, "legendY": 581, "direction": "horizontal", "columns": 3, "title": null,
       "symbolType": "stroke", "symbolStrokeWidth": 3.5, "symbolSize": 2704, "labelFontSize": 20.5, "labelColor": "black", "labelOffset": 10,
       "columnPadding": 139, "rowPadding": -20, "gridAlign": "all"}}
  }
 },
 {
  "width": 577.5, "height": 481,
  "transform": [{"filter": "datum.sex === 'FEMALE'"}],
  "mark": {"type": "line", "strokeWidth": 3},
  "encoding": {
   "x": {"field": "age", "type": "quantitative", "scale": {"domain": [5, 75], "nice": false, "zero": false},
         "axis": {"values": [10, 20, 30, 40, 50, 60, 70], "title": "AGE (FEMALE)", "labelPadding": 13, "titlePadding": 29}},
   "y": {"field": "n", "type": "quantitative", "scale": {"domain": [0, 6], "nice": false}, "axis": null},
   "color": {"field": "drug", "type": "nominal",
     "scale": {"domain": ["Alcohol", "Opiates", "Cocaine", "Marijuana", "Stimulants"], "range": ["#00508c", "#e2231a", "#f6b800", "#00ac5c", "#0a90d7"]}}
  }
 }
]
}
